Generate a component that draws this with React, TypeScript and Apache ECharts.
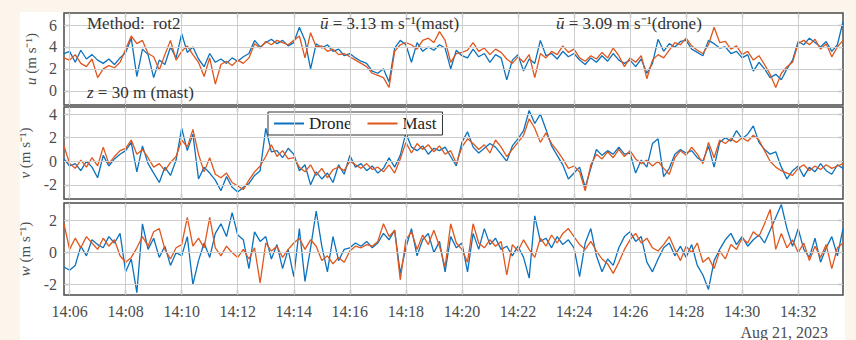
import React, { useEffect, useRef } from 'react';
import * as echarts from 'echarts';

// ---- time axis ----
const startClock = [14, 5, 48];
const stepSeconds = 12;
const tickLabels = ['14:06', '14:08', '14:10', '14:12', '14:14', '14:16', '14:18', '14:20', '14:22', '14:24', '14:26', '14:28', '14:30', '14:32'];
const dateLabel = 'Aug 21, 2023';

// ---- u (m/s) ----
const uDrone = [
  3.4, 3.6, 2.6, 3.7, 2.9, 3.3, 2.8, 2.5, 2.9, 2.4, 3.0,
  3.5, 4.8, 1.3, 3.8, 3.3, 1.2, 2.8, 2.4, 4.0, 3.0,
  5.2, 3.5, 4.0, 2.9, 2.2, 3.4, 2.6, 2.9, 2.5, 3.0,
  2.7, 3.1, 3.4, 4.6, 4.0, 4.4, 4.7, 4.3, 4.6, 4.1,
  4.4, 5.8, 4.6, 2.0, 4.3, 3.9, 4.2, 3.6, 3.8, 3.2,
  3.4, 3.0, 2.7, 2.5, 1.8, 1.6, 2.0, 0.8, 3.9, 4.6,
  4.2, 2.6, 4.4, 3.6, 4.0, 3.7, 4.2, 3.9, 2.0, 3.7,
  3.2, 3.0, 3.8, 3.1, 3.4, 2.6, 3.3, 3.0, 1.0, 2.8,
  3.3, 1.8, 2.9, 2.5, 4.6, 3.2, 3.4, 2.9, 3.6, 3.1,
  3.4, 2.8, 2.4, 3.0, 2.6, 3.2, 2.7, 3.4, 2.8, 2.5,
  2.8, 2.2, 2.9, 1.6, 2.5, 4.7, 3.6, 4.3, 4.0, 4.5,
  4.6, 3.8, 3.5, 3.2, 4.6, 4.3, 3.9, 4.0, 3.4, 3.6,
  3.0, 3.3, 1.8, 2.6, 2.0, 1.2, 1.5, 1.0, 2.0, 2.8,
  4.5, 4.2, 4.8, 4.4, 4.0, 4.5, 3.6, 4.2, 6.3,
];
const uMast = [
  3.0, 2.8, 3.3, 2.5, 2.2, 2.9, 1.2, 2.0, 2.3, 2.1, 2.6,
  3.8, 5.0, 4.3, 4.6, 3.4, 3.1, 1.9, 3.3, 4.6, 2.8,
  3.6, 4.1, 3.3, 2.6, 1.3, 3.0, 0.6, 2.4, 2.7, 2.3,
  2.8, 2.5, 3.0, 4.3, 3.9, 4.5, 4.2, 4.6, 4.4, 4.2,
  4.6, 5.0, 3.0, 5.3, 4.0, 4.1, 3.6, 3.8, 3.3, 3.4,
  3.1, 2.8, 2.5, 2.2, 1.6, 1.4, 1.2, 0.3, 3.6, 4.2,
  4.4, 4.2, 3.8, 4.6, 4.8, 4.4, 5.4, 4.6, 2.6, 3.4,
  3.5, 3.7, 4.4, 3.6, 3.9, 3.3, 3.8, 3.5, 2.9, 2.5,
  3.1, 2.6, 3.3, 1.2, 3.4, 3.0, 3.6, 3.3, 4.1, 3.5,
  3.8, 3.0, 2.7, 3.2, 2.9, 3.5, 3.0, 3.9, 3.2, 2.2,
  3.0, 2.6, 3.2, 1.1, 2.8, 3.3, 3.0, 3.7, 4.4, 4.2,
  4.8, 4.1, 3.7, 3.4, 4.2, 5.8, 4.4, 4.5, 3.8, 4.1,
  3.3, 3.6, 2.8, 3.2, 2.4, 1.5, 0.3, 1.6, 2.2, 2.6,
  4.3, 4.6, 4.2, 4.7, 3.8, 4.3, 3.1, 4.0, 4.6,
];

// ---- v (m/s) ----
const vDrone = [
  0.2, -0.4, -0.2, -0.8, 0.0, -0.5, -1.4, 0.5, -0.4, 0.2, 0.6,
  0.9, 1.6, -0.9, 1.3, -0.2, -1.0, -1.8, -0.5, -1.2, 0.1,
  2.8, 0.9, 2.3, -1.5, -0.5, -1.0, -1.6, -2.5, -1.3, -2.2,
  -2.6, -2.2, -1.9, -1.2, -0.8, 2.8, 0.8, 0.9, 0.3, 1.1,
  0.6, -0.8, -0.3, -2.0, -0.9, -1.5, -1.0, -1.8, -0.3, -1.1,
  0.5, -0.5, -0.2, -0.8, -0.4, -1.0, -0.6, 0.3, -0.5, 0.5,
  2.4, 1.2, 0.9, 1.3, 0.6, 1.1, 0.9, 1.2, 0.4, -0.4,
  1.6, 2.5, 1.2, 0.7, 1.1, 1.5, 1.2, 0.6, 0.0, 1.3,
  1.9, 2.6, 4.3, 3.2, 4.0, 2.7, 1.3, 0.5, -0.3, -1.5,
  -1.0, -0.5, -2.2, -0.6, 1.0, 0.5, 0.9, 0.6, 1.2, 0.6,
  0.7, -1.0, 0.1, -0.5, 1.5, 1.9, -1.3, -0.6, 0.6, 1.0,
  0.7, 0.9, 0.3, 0.0, 1.3, -0.5, 1.6, 2.0, 1.7, 2.6,
  1.9, 2.3, 3.0, 1.6, 1.0, 0.6, 0.8, -0.5, -1.5, -0.8,
  -0.4, -1.3, -0.5, -0.9, -0.2, -0.8, -1.1, -0.3, -0.6,
];
const vMast = [
  1.3, -0.2, -0.6, 0.1, -0.5, 0.3, -0.4, 1.2, -0.2, 0.4, 0.9,
  1.1, 1.8, 0.6, 1.0, 0.3, -0.5, -0.2, -0.8, -0.1, 0.4,
  1.8, 1.2, 2.7, 0.6, -0.9, 0.3, -1.1, -1.4, -1.0, -1.8,
  -2.1, -2.4, -1.6, -0.9, -0.4, 0.4, 1.4, 0.4, 0.9, 0.2,
  0.3, -0.5, -0.9, -0.3, -1.2, -0.6, -1.4, -0.7, -0.5, -0.8,
  0.0, -0.3, -0.6, -0.2, -0.7, -0.5, -0.9, -0.3, -1.0, 0.2,
  1.6, 0.7, 1.5, 1.0, 1.4, 0.8, 1.3, 0.6, 0.9, -0.2,
  1.2, 1.9, 1.5, 1.0, 1.4, 0.7, 1.8, 1.2, 0.4, 1.0,
  1.6, 2.2, 3.6, 2.8, 1.6, 2.4, 1.5, 0.9, 0.2, -0.6,
  -0.4, -0.9, -2.5, -0.3, 0.6, 0.2, 0.8, 0.3, 1.0, 0.4,
  0.9, 0.2, -0.2, 0.1, -0.4, 0.0, -0.6, -1.1, 0.3, 0.9,
  0.5, 1.2, 0.6, -0.2, 1.6, 0.3, 1.8, 1.5, 1.9, 1.6,
  2.0, 1.7, 2.2, 1.8, 0.9, 0.0, -0.5, -0.8, -1.0, -1.2,
  -0.6, -0.3, -0.8, -0.4, -0.7, -0.3, -0.6, -0.4, -0.2,
];

// ---- w (m/s) ----
const wDrone = [
  -0.9, -1.1, -0.8, 0.4, -0.2, 0.8, 0.5, 0.3, 1.0, 0.6, 1.2,
  -1.2, -0.4, -2.5, 1.8, 0.2, 0.9, -0.3, 0.4, -0.8, 0.0,
  -0.2, 1.0, -2.0, -0.5, 0.6, -0.3, 1.2, 1.8, 1.0, 2.5,
  1.1, 0.8, -1.0, 1.3, 0.7, 1.0, -0.4, 0.5, -1.0, 0.2,
  -1.5, 1.5, -1.8, 0.3, 2.6, 0.4, -1.2, 1.0, -0.5, 0.2,
  0.3, 0.6, 0.4, 0.7, 0.3, 0.6, 1.2, 0.8, 1.4, -1.3,
  0.3, 1.5, -0.2, 0.8, 1.2, 0.0, 0.7, -1.2, 1.0, 0.3,
  0.6, -1.2, 1.2, 0.2, 1.5, 0.5, 0.9, 0.2, 0.4, -0.2,
  0.4, -0.3, -1.6, 2.3, 0.7, 0.9, 0.3, 1.0, 0.5, 0.8,
  0.3, -1.5, 0.6, 1.5, -0.2, -1.2, -0.4, -0.8, 0.3, 1.0,
  1.3, 0.7, 1.0, -0.6, -1.2, -0.4, 0.3, 0.6, -0.2, 0.4,
  -0.3, 0.5, -0.8, -1.4, -2.3, -0.5, 0.2, 0.8, 1.2, 0.5,
  1.0, 0.4, 0.8, 1.1, 0.6, 1.4, 2.2, 3.0, 1.5, 0.4,
  1.5, 0.2, -0.3, 0.9, -0.6, 0.3, 1.0, -0.2, 1.5,
];
const wMast = [
  1.8, 0.2, 0.9, 0.3, 1.0, 0.6, 0.2, 0.9, 0.4, 0.8, -0.2,
  -0.6, -0.3, 0.3, 1.0, 0.4, 1.3, 1.5, 0.2, -0.4, 0.3,
  0.5, 2.2, 0.4, 0.9, 0.3, 2.2, 0.3, -0.2, 0.4, 0.0,
  -0.3, 0.2, -0.4, 0.3, -1.9, 0.6, 0.1, 0.4, -0.3, 0.2,
  0.6, 0.9, 0.2, 0.8, 0.4, -0.5, -0.2, -0.7, -0.3, -0.6,
  0.1, 0.4, 0.3, 0.5, 0.4, 0.7, 1.8, 1.0, 1.4, -1.7,
  0.8, 1.3, 0.2, 1.1, 0.5, 1.4, 0.4, -0.9, 1.8, 0.6,
  0.2, -0.6, 1.8, 0.6, 0.3, 0.8, 0.4, 0.7, -1.4, 0.5,
  0.1, 0.8, 0.2, -0.3, 0.9, 0.4, 1.1, 0.6, 1.2, 1.5,
  1.0, 0.5, 0.2, 0.7, 0.1, -0.4, -0.7, -1.3, -0.6, 0.2,
  0.8, 1.2, 0.6, 0.9, 0.3, 0.1, 0.5, 1.0, 0.2, -0.5,
  0.4, 0.0, 0.6, -0.6, -0.3, -1.0, 0.1, -0.4, 0.5, 0.2,
  0.9, 0.6, 1.3, 1.0, 1.8, 2.7, 0.2, 1.2, 0.3, 0.8,
  0.0, 0.6, -0.5, 0.4, -0.3, 0.5, -1.0, 0.3, 0.6,
];

const uTicks = [0, 2, 4, 6];
const vTicks = [-2, 0, 2, 4];
const wTicks = [-2, 0, 2];

const FONT = '"Liberation Serif", "Times New Roman", serif';
const BLUE = '#0b72be';
const ORANGE = '#e0561c';
const LABEL = '#4d4d4d';
const FRAME = '#4a4a4a';
const GRIDLINE = '#cdcdcd';

function pad(n: number) {
  return n < 10 ? '0' + n : '' + n;
}
function makeTimes(n: number): string[] {
  const s0 = startClock[0] * 3600 + startClock[1] * 60 + startClock[2];
  const out: string[] = [];
  for (let i = 0; i < n; i++) {
    const s = s0 + i * stepSeconds;
    out.push(pad(Math.floor(s / 3600)) + ':' + pad(Math.floor((s % 3600) / 60)) + ':' + pad(s % 60));
  }
  return out;
}
const isTick = (v: string) => v.endsWith(':00') && tickLabels.includes(v.slice(0, 5));

export default function App() {
  const ref = useRef<HTMLDivElement>(null);
  useEffect(() => {
    if (!ref.current) return;
    const chart = echarts.init(ref.current, undefined, { renderer: 'svg' });
    const times = makeTimes(uDrone.length);
    const tickTimes = tickLabels.map((t) => t + ':00');
    const panels = [
      { drone: uDrone, mast: uMast, min: -1.3, max: 7.1, ticks: uTicks, sym: 'u', top: 13 },
      { drone: vDrone, mast: vMast, min: -3.2, max: 4.6, ticks: vTicks, sym: 'v', top: 107 },
      { drone: wDrone, mast: wMast, min: -2.65, max: 3.1, ticks: wTicks, sym: 'w', top: 203 },
    ];
    const grid: any[] = [];
    const xAxis: any[] = [];
    const yAxis: any[] = [];
    const series: any[] = [];
    panels.forEach((p, g) => {
      grid.push({
        left: 64, top: p.top, width: 779, height: 92, show: true,
        borderColor: FRAME, borderWidth: 1.5, backgroundColor: 'transparent',
      });
      const tickFn = (_i: number, v: string) => isTick(v);
      xAxis.push({
        type: 'category', gridIndex: g, data: times, boundaryGap: false, position: 'bottom',
        axisLine: { show: false, onZero: false },
        axisTick: { show: true, inside: true, length: 5, interval: tickFn, lineStyle: { color: FRAME, width: 1.2 } },
        axisLabel: {
          show: g === 2, interval: tickFn, formatter: (v: string) => v.slice(0, 5),
          fontFamily: FONT, fontSize: 16, color: LABEL, margin: 8,
        },
        splitLine: { show: false },
      });
      xAxis.push({
        type: 'category', gridIndex: g, data: times, boundaryGap: false, position: 'top',
        axisLine: { show: false, onZero: false },
        axisTick: { show: true, inside: true, length: 5, interval: tickFn, lineStyle: { color: FRAME, width: 1.2 } },
        axisLabel: { show: false },
        splitLine: { show: false },
      });
      yAxis.push({
        type: 'value', gridIndex: g, min: p.min, max: p.max, position: 'left',
        axisLine: { show: false, onZero: false },
        axisTick: { show: true, inside: true, length: 5, customValues: p.ticks, lineStyle: { color: FRAME, width: 1.2 } },
        axisLabel: { customValues: p.ticks, fontFamily: FONT, fontSize: 16, color: LABEL, margin: 7 },
        splitLine: { show: false },
        name: '{i|' + p.sym + '}{n| (m s⁻¹)}',
        nameLocation: 'middle', nameRotate: 90, nameGap: 26,
        nameTextStyle: {
          fontFamily: FONT, fontSize: 15, color: LABEL,
          rich: {
            i: { fontFamily: FONT, fontSize: 15, color: LABEL, fontStyle: 'italic' },
            n: { fontFamily: FONT, fontSize: 15, color: LABEL },
          },
        },
      });
      yAxis.push({
        type: 'value', gridIndex: g, min: p.min, max: p.max, position: 'right',
        axisLine: { show: false, onZero: false },
        axisTick: { show: true, inside: true, length: 5, customValues: p.ticks, lineStyle: { color: FRAME, width: 1.2 } },
        axisLabel: { show: false },
        splitLine: { show: false },
      });
      // gridlines, drawn through the axes' own scales
      series.push({
        name: 'grid' + g, type: 'line', xAxisIndex: 2 * g, yAxisIndex: 2 * g,
        data: times.map(() => null), symbol: 'none', silent: true, z: 1,
        lineStyle: { opacity: 0 },
        markLine: {
          silent: true, symbol: 'none', animation: false,
          label: { show: false },
          lineStyle: { color: GRIDLINE, width: 1, type: 'solid' },
          emphasis: { disabled: true },
          data: [
            ...tickTimes.map((t) => ({ xAxis: t })),
            ...p.ticks.map((v) => ({ yAxis: v })),
          ],
        },
      });
      series.push({
        name: 'Drone', type: 'line', xAxisIndex: 2 * g, yAxisIndex: 2 * g, data: p.drone,
        symbol: 'none', lineStyle: { color: BLUE, width: 1.3 }, itemStyle: { color: BLUE }, z: 2,
      });
      series.push({
        name: 'Mast', type: 'line', xAxisIndex: 2 * g, yAxisIndex: 2 * g, data: p.mast,
        symbol: 'none', lineStyle: { color: ORANGE, width: 1.3 }, itemStyle: { color: ORANGE }, z: 3,
      });
    });

    const ann = (x: number, y: number, text: string) => ({
      type: 'text', x, y, z: 10,
      style: {
        text, fill: '#333', fontFamily: FONT, fontSize: 17, verticalAlign: 'middle', align: 'left',
        rich: {
          i: { fontFamily: FONT, fontSize: 17, fill: '#333', fontStyle: 'italic' },
          n: { fontFamily: FONT, fontSize: 17, fill: '#333' },
        },
      },
    });

    chart.setOption({
      animation: false,
      backgroundColor: 'transparent',
      grid, xAxis, yAxis, series,
      legend: {
        data: ['Drone', 'Mast'], left: 268, top: 112, orient: 'horizontal',
        icon: 'rect', itemWidth: 30, itemHeight: 2, itemGap: 16,
        backgroundColor: '#fff', borderColor: '#333', borderWidth: 1, borderRadius: 0,
        padding: [3, 6, 3, 6],
        textStyle: { fontFamily: FONT, fontSize: 17, color: '#222' },
      },
      graphic: [
        ann(87, 23, '{n|Method:  rot2}'),
        ann(320, 23, '{i|ū}{n| = 3.13 m s⁻¹(mast)}'),
        ann(556, 23, '{i|ū}{n| = 3.09 m s⁻¹(drone)}'),
        ann(87, 92, '{i|z}{n| = 30 m (mast)}'),
        {
          type: 'text', right: 28, top: 324, z: 10,
          style: { text: dateLabel, fill: LABEL, fontFamily: FONT, fontSize: 16 },
        },
      ],
    });
    return () => chart.dispose();
  }, []);

  return (
    <div style={{ position: 'fixed', left: 0, top: 0, width: 856, height: 340, background: '#fcf5ec', overflow: 'hidden' }}>
      <div style={{ position: 'absolute', left: 20, top: 12, width: 825, height: 328, background: '#ffffff' }} />
      <div ref={ref} style={{ position: 'absolute', left: 0, top: 0, width: 856, height: 340 }} />
    </div>
  );
}
